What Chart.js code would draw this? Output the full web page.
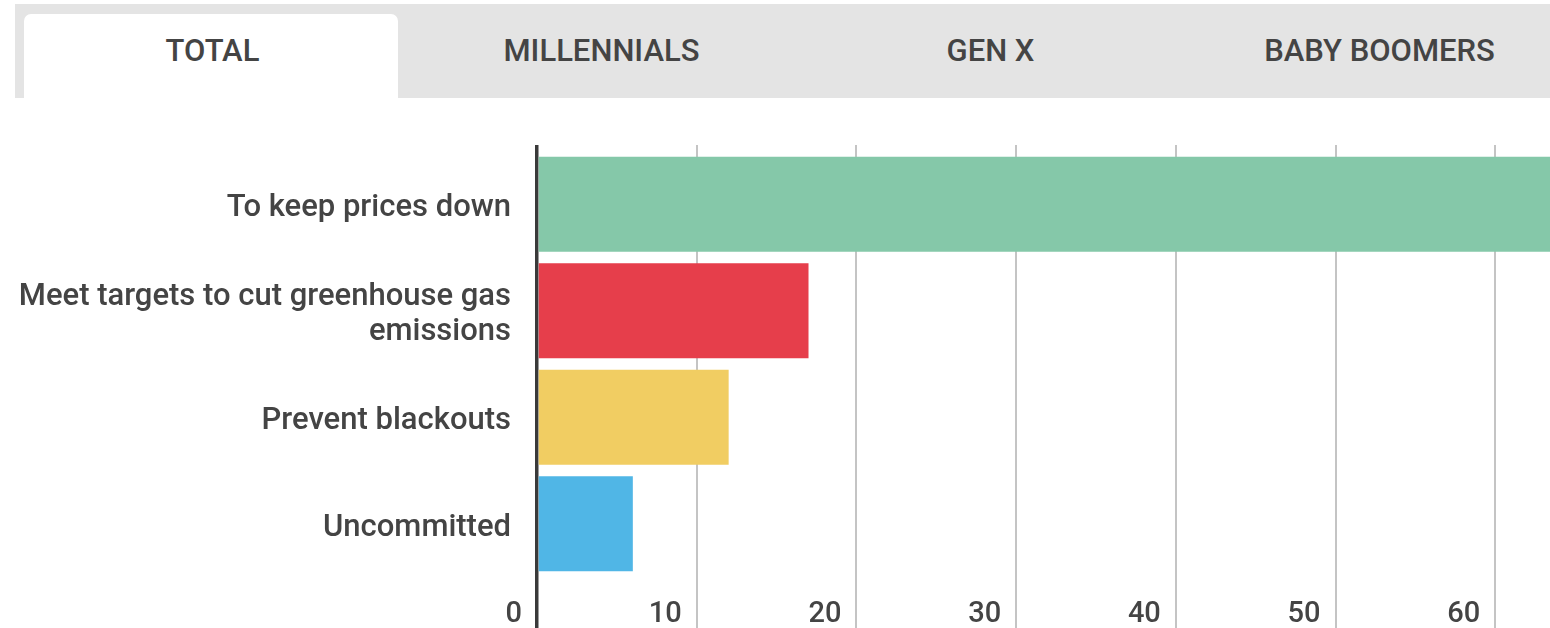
<!DOCTYPE html>
<html>
<head>
<meta charset="utf-8">
<script src="https://cdn.jsdelivr.net/npm/chart.js@4/dist/chart.umd.min.js"></script>
<style>
  html, body { margin: 0; padding: 0; background: #fff; overflow: hidden; width: 1550px; height: 628px; }
  body { position: relative; font-family: Roboto, "Noto Sans", sans-serif; }
  .band { position: absolute; left: 15px; top: 4px; width: 1560px; height: 94px; background: #e4e4e4; }
  .active { position: absolute; left: 24px; top: 14px; width: 374px; height: 84px; background: #fff; border-radius: 7px 7px 0 0; }
  .tab { position: absolute; top: 30px; width: 389px; height: 42px; line-height: 42px; text-align: center;
         font-size: 31px; font-weight: 500; color: #444; }
  #wrap { position: absolute; left: 0; top: 110px; width: 1660px; height: 522px; }
</style>
</head>
<body>
<div class="band"></div>
<div class="active"></div>
<div id="tabs"></div>
<div id="wrap"><canvas id="myChart"></canvas></div>
<script>
var tabNames = ['TOTAL', 'MILLENNIALS', 'GEN X', 'BABY BOOMERS'];

var categories = [
  'To keep prices down',
  ['Meet targets to cut greenhouse gas', 'emissions'],
  'Prevent blackouts',
  'Uncommitted'
];
var values = [65, 17, 12, 6];
var barColors = ['#85c8a9', '#e63e4b', '#f1cd62', '#50b6e6'];
var axisMin = 0;
var axisMax = 70;
var axisStep = 10;

var tabsDiv = document.getElementById('tabs');
for (var i = 0; i < tabNames.length; i++) {
  var t = document.createElement('div');
  t.className = 'tab';
  t.style.left = (18 + i * 389) + 'px';
  t.textContent = tabNames[i];
  tabsDiv.appendChild(t);
}

function gridColor(ctx) {
  return ctx.tick && ctx.tick.value === 0 ? '#3a3a3a' : '#c4c4c4';
}
function gridWidth(ctx) {
  return ctx.tick && ctx.tick.value === 0 ? 3.5 : 2;
}

new Chart(document.getElementById('myChart').getContext('2d'), {
  type: 'bar',
  data: {
    labels: categories,
    datasets: [{
      data: values,
      backgroundColor: barColors,
      borderWidth: 0,
      categoryPercentage: 1,
      barPercentage: 0.89
    }]
  },
  options: {
    indexAxis: 'y',
    responsive: true,
    maintainAspectRatio: false,
    animation: false,
    layout: { padding: { top: 35, bottom: 5, left: 0, right: 5 } },
    plugins: {
      legend: { display: false },
      tooltip: { enabled: false }
    },
    scales: {
      x: {
        type: 'linear',
        position: 'bottom',
        min: axisMin,
        max: axisMax,
        border: { display: false },
        grid: { color: gridColor, lineWidth: gridWidth, tickLength: 105 },
        ticks: {
          stepSize: axisStep,
          mirror: true,
          align: 'end',
          labelOffset: -15,
          padding: -55,
          color: '#444',
          font: { family: 'Roboto', size: 29, weight: '500' }
        },
        afterFit: function(scale) { scale.height = 50; }
      },
      xTop: {
        type: 'linear',
        axis: 'x',
        position: 'top',
        min: axisMin,
        max: axisMax,
        border: { display: false },
        grid: { color: gridColor, lineWidth: gridWidth, tickLength: 6, drawOnChartArea: false },
        ticks: { stepSize: axisStep, display: false },
        afterFit: function(scale) { scale.height = 6; }
      },
      y: {
        border: { display: false },
        grid: { display: false, drawTicks: false },
        ticks: {
          padding: 26,
          labelOffset: 4,
          color: '#444',
          font: { family: 'Roboto', size: 31, weight: '500', lineHeight: 1.13 }
        },
        afterFit: function(scale) {
          scale.width = 537;
          scale.paddingTop = 0;
          scale.paddingBottom = 0;
        }
      }
    }
  }
});
</script>
</body>
</html>
